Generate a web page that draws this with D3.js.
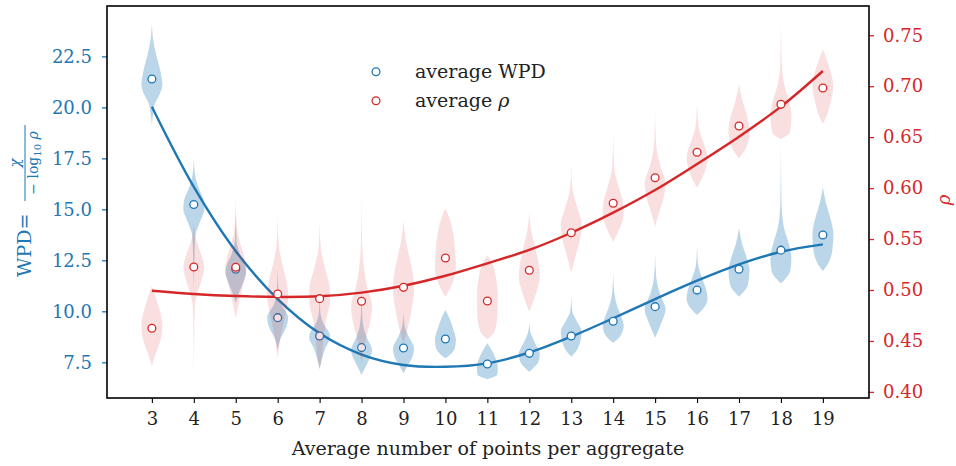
<!DOCTYPE html>
<html><head><meta charset="utf-8">
<script src="https://cdn.jsdelivr.net/npm/d3@7"></script>
<style>body{margin:0;background:#fff}svg{display:block}text{font-family:"DejaVu Serif","Liberation Serif",serif}</style>
</head><body><svg id="c" width="956" height="466"></svg>
<script>
const categories = [3,4,5,6,7,8,9,10,11,12,13,14,15,16,17,18,19];
const avgWPD = [21.39,15.24,12.06,9.69,8.79,8.22,8.2,8.64,7.42,7.94,8.79,9.51,10.23,11.04,12.06,13.0,13.74];
const avgRho = [0.4624,0.5226,0.5223,0.4961,0.4915,0.4889,0.5026,0.5314,0.4892,0.5193,0.5562,0.5851,0.6102,0.6351,0.6609,0.6822,0.6982];
const fitWPD = [20.03,16.1,12.95,10.6,8.92,7.88,7.37,7.28,7.45,7.98,8.76,9.66,10.6,11.5,12.3,12.92,13.28];
const fitRho = [0.4993,0.4961,0.4941,0.4932,0.4938,0.4974,0.5042,0.514,0.5262,0.5393,0.5562,0.5759,0.5981,0.6236,0.6504,0.6799,0.7149];
// violin profiles: [value, relative half-width]
const violinWPD = [
 [[24.12,0],[23.4,0.1],[22.6,0.4],[21.8,0.8],[21.1,1.0],[20.6,0.7],[20.2,0.3],[19.8,0.15],[19.13,0]],
 [[17.53,0],[16.6,0.15],[16.0,0.5],[15.4,0.95],[15.0,1.0],[14.4,0.6],[13.7,0.15],[12.5,0.06],[11.05,0]],
 [[14.88,0],[13.5,0.08],[12.8,0.4],[12.2,0.9],[11.9,1.0],[11.4,0.7],[10.9,0.3],[10.4,0]],
 [[12.11,0],[11.0,0.08],[10.3,0.4],[9.7,1.0],[9.2,0.8],[8.7,0.3],[8.1,0]],
 [[10.8,0],[10.0,0.06],[9.4,0.35],[8.9,0.95],[8.7,1.0],[8.2,0.55],[7.6,0.2],[7.2,0]],
 [[11.37,0],[10.0,0.05],[9.2,0.2],[8.6,0.6],[8.1,1.0],[7.6,0.7],[7.2,0.3],[6.88,0]],
 [[10.0,0],[9.3,0.1],[8.7,0.55],[8.2,1.0],[7.7,0.8],[7.3,0.35],[6.96,0]],
 [[10.06,0],[9.7,0.35],[9.2,0.7],[8.6,1.0],[8.2,0.9],[7.9,0.5],[7.7,0]],
 [[8.43,0],[8.1,0.4],[7.6,0.85],[7.2,1.0],[6.9,0.95],[6.67,0]],
 [[9.49,0],[9.0,0.1],[8.5,0.5],[7.9,1.0],[7.5,0.85],[7.2,0.35],[7.04,0]],
 [[10.72,0],[10.0,0.1],[9.5,0.55],[9.0,1.0],[8.5,0.85],[8.0,0.4],[7.77,0]],
 [[11.94,0],[11.0,0.08],[10.3,0.35],[9.7,0.8],[9.3,1.0],[8.8,0.7],[8.46,0]],
 [[12.84,0],[11.7,0.1],[10.8,0.5],[10.1,1.0],[9.5,0.65],[9.0,0.25],[8.71,0]],
 [[13.25,0],[12.3,0.1],[11.6,0.5],[11.0,0.9],[10.6,1.0],[10.1,0.55],[9.82,0]],
 [[14.07,0],[13.3,0.3],[12.6,0.75],[12.0,1.0],[11.3,0.85],[10.72,0]],
 [[18.24,0],[15.5,0.05],[14.2,0.25],[13.4,0.7],[12.6,1.0],[12.0,0.9],[11.37,0]],
 [[16.08,0],[15.3,0.3],[14.5,0.75],[13.8,1.0],[13.0,0.9],[12.3,0.45],[11.98,0]]
];
const violinRho = [
 [[0.504,0],[0.495,0.3],[0.48,0.75],[0.465,1.0],[0.45,0.8],[0.437,0.35],[0.4254,0]],
 [[0.565,0],[0.55,0.2],[0.535,0.7],[0.522,1.0],[0.51,0.75],[0.495,0.3],[0.485,0.1],[0.45,0.03],[0.412,0]],
 [[0.5916,0],[0.565,0.08],[0.55,0.3],[0.535,0.75],[0.522,1.0],[0.505,0.7],[0.49,0.35],[0.472,0]],
 [[0.572,0],[0.545,0.1],[0.525,0.45],[0.505,0.9],[0.493,1.0],[0.475,0.7],[0.455,0.3],[0.44,0.08],[0.433,0]],
 [[0.5655,0],[0.54,0.12],[0.52,0.55],[0.503,0.95],[0.49,1.0],[0.47,0.6],[0.45,0.35],[0.43,0.15],[0.4215,0]],
 [[0.5965,0],[0.55,0.05],[0.52,0.25],[0.5,0.6],[0.485,1.0],[0.47,0.85],[0.45,0.35],[0.435,0.1],[0.428,0]],
 [[0.5677,0],[0.55,0.2],[0.535,0.5],[0.515,0.9],[0.5,1.0],[0.48,0.75],[0.46,0.35],[0.4477,0]],
 [[0.5802,0],[0.57,0.4],[0.555,0.75],[0.535,0.95],[0.52,1.0],[0.505,0.6],[0.4934,0]],
 [[0.5343,0],[0.525,0.5],[0.51,0.85],[0.495,1.0],[0.475,0.95],[0.46,0.7],[0.4516,0]],
 [[0.5768,0],[0.56,0.15],[0.54,0.6],[0.525,0.9],[0.512,1.0],[0.5,0.75],[0.488,0.35],[0.4787,0]],
 [[0.6243,0],[0.6,0.1],[0.58,0.6],[0.565,1.0],[0.55,0.85],[0.535,0.45],[0.517,0]],
 [[0.6538,0],[0.62,0.1],[0.6,0.55],[0.585,0.95],[0.575,1.0],[0.56,0.6],[0.5474,0]],
 [[0.675,0],[0.64,0.12],[0.62,0.55],[0.605,1.0],[0.59,0.8],[0.575,0.35],[0.562,0]],
 [[0.6848,0],[0.66,0.15],[0.645,0.6],[0.63,1.0],[0.615,0.7],[0.6004,0]],
 [[0.7022,0],[0.685,0.35],[0.67,0.8],[0.655,1.0],[0.64,0.7],[0.6292,0]],
 [[0.7617,0],[0.72,0.08],[0.7,0.35],[0.685,0.8],[0.67,1.0],[0.655,0.85],[0.6479,0]],
 [[0.7362,0],[0.725,0.4],[0.71,0.85],[0.7,1.0],[0.685,0.75],[0.672,0.4],[0.6629,0]]
];
const leftTicks = [7.5,10.0,12.5,15.0,17.5,20.0,22.5];
const rightTicks = [0.40,0.45,0.50,0.55,0.60,0.65,0.70,0.75];
const xLabel = "Average number of points per aggregate";
const legendLabels = ["average WPD","average ρ"];

const BLUE = "#1f77b4", RED = "#d62728";
const L=107, R=869, T=6, B=398;
const svg = d3.select("#c");
const x = d3.scaleLinear().domain([1.93,20.1]).range([L,R]);
const yL = d3.scaleLinear().domain([5.75,24.97]).range([B,T]);
const yR = d3.scaleLinear().domain([0.394,0.7787]).range([B,T]);
const hw = x(3.25)-x(3);

function drawViolins(profiles, ys, color, op){
  const g = svg.append("g");
  profiles.forEach((p,i)=>{
    const cx = x(categories[i]);
    const pts = p.slice().sort((a,b)=>b[0]-a[0]);
    const area = d3.area().curve(d3.curveMonotoneY)
      .y(d=>ys(d[0])).x0(d=>cx-d[1]*hw).x1(d=>cx+d[1]*hw);
    g.append("path").attr("d",area(pts)).attr("fill",color).attr("fill-opacity",op);
  });
}
function drawFit(vals, ys, color){
  svg.append("path").attr("d", d3.line().curve(d3.curveCatmullRom).x((d,i)=>x(categories[i])).y(d=>ys(d))(vals))
    .attr("fill","none").attr("stroke",color).attr("stroke-width",2.4);
}
function drawPts(vals, ys, color){
  svg.append("g").selectAll("circle").data(vals).join("circle")
    .attr("cx",(d,i)=>x(categories[i])).attr("cy",d=>ys(d)).attr("r",3.9)
    .attr("fill","#fff").attr("stroke",color).attr("stroke-width",1.3);
}
drawViolins(violinWPD, yL, BLUE, 0.3);
drawFit(fitWPD, yL, BLUE);
drawPts(avgWPD, yL, BLUE);
drawViolins(violinRho, yR, RED, 0.15);
drawFit(fitRho, yR, RED);
drawPts(avgRho, yR, RED);

// axes
const fs = 18;
const gx = svg.append("g").attr("transform",`translate(0,${B})`)
  .call(d3.axisBottom(x).tickValues(categories).tickFormat(d3.format("d")).tickSize(5).tickPadding(9));
gx.select(".domain").remove();
gx.selectAll("line").attr("stroke","#000").attr("stroke-width",1.1);
gx.selectAll("text").attr("font-size",fs).attr("fill","#222");

const gl = svg.append("g").attr("transform",`translate(${L},0)`)
  .call(d3.axisLeft(yL).tickValues(leftTicks).tickFormat(d3.format(".1f")).tickSize(5).tickPadding(10));
gl.select(".domain").remove();
gl.selectAll("line").attr("stroke",BLUE).attr("stroke-width",1.3);
gl.selectAll("text").attr("font-size",fs).attr("fill",BLUE);

const gr = svg.append("g").attr("transform",`translate(${R},0)`)
  .call(d3.axisRight(yR).tickValues(rightTicks).tickFormat(d3.format(".2f")).tickSize(5).tickPadding(9));
gr.select(".domain").remove();
gr.selectAll("line").attr("stroke",RED).attr("stroke-width",1.3);
gr.selectAll("text").attr("font-size",fs).attr("fill",RED);

svg.append("rect").attr("x",L).attr("y",T).attr("width",R-L).attr("height",B-T)
  .attr("fill","none").attr("stroke","#000").attr("stroke-width",1.6);

svg.append("text").attr("x",488).attr("y",455).attr("text-anchor","middle")
  .attr("font-size",19).attr("fill","#222").text(xLabel);

// left y label
const yl = svg.append("g").attr("transform","rotate(-90)").attr("fill",BLUE);
yl.append("text").attr("x",-277).attr("y",31).attr("font-size",19).text("WPD=");
yl.append("line").attr("x1",-201).attr("x2",-125).attr("y1",25).attr("y2",25).attr("stroke",BLUE).attr("stroke-width",1);
yl.append("text").attr("x",-163).attr("y",20).attr("text-anchor","middle").attr("font-size",15)
  .attr("font-style","italic").text("χ");
const den = yl.append("text").attr("x",-163).attr("y",38).attr("text-anchor","middle").attr("font-size",14);
den.append("tspan").text("− log");
den.append("tspan").attr("font-size",10).attr("dy",3).text("10");
den.append("tspan").attr("dy",-3).attr("font-style","italic").text(" ρ");

// right y label
svg.append("text").attr("transform","translate(950,200) rotate(-90)").attr("text-anchor","middle")
  .attr("font-size",fs).attr("font-style","italic").attr("fill",RED).text("ρ");

// legend
const lg = svg.append("g");
[[BLUE,71.7,77.5],[RED,100.7,106.5]].forEach((c,i)=>{
  lg.append("circle").attr("cx",376).attr("cy",c[1]).attr("r",3.9).attr("fill","#fff").attr("stroke",c[0]).attr("stroke-width",1.3);
  const t = lg.append("text").attr("x",415).attr("y",c[2]).attr("font-size",19).attr("fill","#222");
  if(i===0) t.text(legendLabels[0]);
  else { t.append("tspan").text("average "); t.append("tspan").attr("font-style","italic").text("ρ"); }
});
</script></body></html>
